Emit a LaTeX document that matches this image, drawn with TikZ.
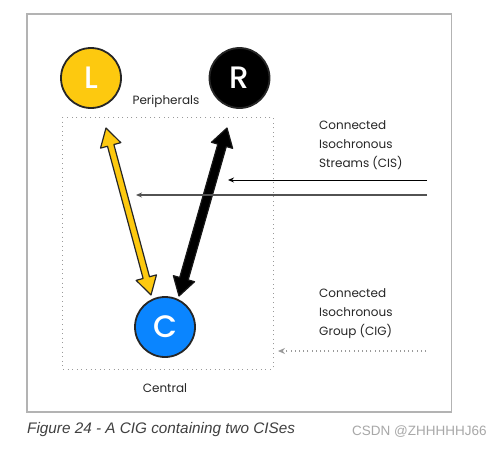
\documentclass[tikz,border=0pt]{standalone}
\usepackage{fontspec}
\setmainfont{Poppins}
\newfontfamily\letfont{Poppins}[UprightFont=* Medium]
\newfontfamily\capfont{Liberation Sans}
\usetikzlibrary{calc,arrows.meta}
\definecolor{lyellow}{HTML}{FDC90F}
\definecolor{cblue}{HTML}{0A85FF}
\definecolor{framegray}{HTML}{B3B3B3}
\definecolor{dotgray}{HTML}{9A9A9A}
\definecolor{capgray}{HTML}{404040}
\definecolor{wmgray}{HTML}{A8A8A8}
\newcommand{\fatarrow}[7]{%
  \path ($(#1)!#6!(#2)$) coordinate (fa1) ($(#2)!#6!(#1)$) coordinate (fa2);
  \filldraw[fill=#3, draw=#7, line width=1.2pt, line join=round]
    (#1) -- ($(fa1)!#5!90:(#2)$) -- ($(fa1)!#4!90:(#2)$) -- ($(fa2)!#4!-90:(#1)$)
    -- ($(fa2)!#5!-90:(#1)$) -- (#2) -- ($(fa2)!#5!90:(#1)$) -- ($(fa2)!#4!90:(#1)$)
    -- ($(fa1)!#4!-90:(#2)$) -- ($(fa1)!#5!-90:(#2)$) -- cycle;}
\tikzset{
  dev/.style={circle, minimum size=60pt, inner sep=0pt, draw=black!85, line width=1.8pt,
    text=white, font=\letfont\fontsize{31}{31}\selectfont},
  lbl/.style={font=\fontsize{12}{19}\selectfont, text=black!85, inner sep=0pt},
  dotbox/.style={draw=dotgray, line width=1pt, dash pattern=on 1pt off 3.6pt},
  cisline/.style={-{Stealth[length=6pt,width=5pt]}},
}
\begin{document}
\begin{tikzpicture}[x=1pt,y=-1pt]
\useasboundingbox (0,0) rectangle (503,448);
\fill[white] (0,0) rectangle (503,448);
\draw[framegray, line width=1.5pt] (27,14) rectangle (451.5,412);
\draw[dotbox] (62,117) rectangle (273,369);

\node[dev, fill=lyellow] (L) at (91,78) {L};
\node[dev, fill=black] (R) at (239.5,78) {R};
\node[dev, fill=cblue] (C) at (165,327) {C};

\node[lbl] (per) at (166,101) {Peripherals};
\node[lbl] (cen) at (165,388) {Central};
\node[lbl, anchor=west, align=left] (cis) at (319,145) {Connected\\Isochronous\\Streams (CIS)};
\node[lbl, anchor=west, align=left] (cig) at (319,314) {Connected\\Isochronous\\Group (CIG)};

\coordinate (yt) at (106,128);
\coordinate (yb) at (151,295);
\coordinate (bt) at (227,128);
\coordinate (bb) at (179,296);
\fatarrow{yt}{yb}{lyellow}{3.3pt}{10.5pt}{18pt}{black!85}
\fatarrow{bt}{bb}{black}{4.4pt}{11pt}{18pt}{black!90}

\coordinate (s1) at (427,180);
\coordinate (e1) at (228,180);
\coordinate (s2) at (427,195);
\coordinate (e2) at (136,195);
\draw[cisline, black, line width=1pt] (s1) -- (e1);
\draw[cisline, black!68, line width=1.7pt] (s2) -- (e2);

\coordinate (s3) at (426,351);
\coordinate (e3) at (278,351);
\draw[dotgray, line width=1.1pt, dash pattern=on 1pt off 3.2pt, -{Stealth[length=7pt,width=6pt]}] (s3) -- (e3);

\node[anchor=west, inner sep=0pt, text=capgray, font=\capfont\itshape\fontsize{15.3}{15.3}\selectfont] (cap) at (27,430) {Figure 24 - A CIG containing two CISes};
\node[anchor=west, inner sep=0pt, text=wmgray, font=\capfont\fontsize{13.5}{13.5}\selectfont] (wm) at (352,432) {CSDN @ZHHHHHJ66};
\end{tikzpicture}
\end{document}
